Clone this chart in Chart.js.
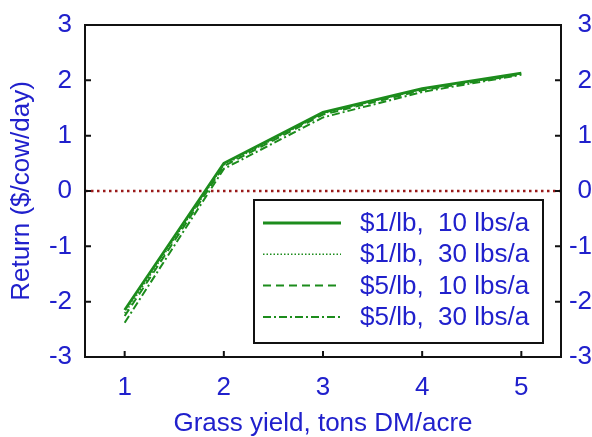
<!DOCTYPE html>
<html>
<head>
<meta charset="utf-8">
<script src="https://cdn.jsdelivr.net/npm/chart.js@4.4.1/dist/chart.umd.min.js"></script>
<style>
  html, body { margin: 0; padding: 0; background: #fff; }
  canvas { display: block; }
</style>
</head>
<body>
<canvas id="returnChart" width="592" height="437"></canvas>
<script>
// grass yield, tons DM/acre
const yieldTons = [1, 2, 3, 4, 5];
// return, $/cow/day
const p1lb10 = [-2.15, 0.50, 1.42, 1.85, 2.13];
const p1lb30 = [-2.21, 0.47, 1.40, 1.84, 2.12];
const p5lb10 = [-2.26, 0.45, 1.38, 1.82, 2.11];
const p5lb30 = [-2.38, 0.40, 1.33, 1.79, 2.10];
const seriesLabels = ["$1/lb,  10 lbs/a", "$1/lb,  30 lbs/a", "$5/lb,  10 lbs/a", "$5/lb,  30 lbs/a"];
const yTicks = [-3, -2, -1, 0, 1, 2, 3];
const breakEven = 0;

const green = "#1c8c1c";
const blue = "#2020cc";
const fontFam = "'Liberation Sans', Arial, sans-serif";

function pts(vals) {
  return vals.map((v, i) => ({ x: yieldTons[i], y: v }));
}

const styles = [
  { dash: [], width: 2.8 },
  { dash: [1.5, 2], width: 1.5 },
  { dash: [8, 5], width: 2 },
  { dash: [8, 3, 2, 3], width: 2 }
];

const datasets = [p1lb10, p1lb30, p5lb10, p5lb30].map((vals, i) => ({
  label: seriesLabels[i],
  data: pts(vals),
  borderColor: green,
  borderWidth: styles[i].width,
  borderDash: styles[i].dash,
  pointRadius: 0,
  fill: false,
  tension: 0
}));

// frame, inward ticks, zero line and the boxed legend
const decor = {
  id: "decor",
  beforeDatasetsDraw(chart) {
    const { ctx, chartArea: a, scales } = chart;
    const y0 = scales.y.getPixelForValue(breakEven);
    ctx.save();
    ctx.strokeStyle = "#9a1a1a";
    ctx.lineWidth = 2.5;
    ctx.setLineDash([2.5, 3.5]);
    ctx.beginPath();
    ctx.moveTo(a.left, y0);
    ctx.lineTo(a.right, y0);
    ctx.stroke();
    ctx.restore();
  },
  afterDatasetsDraw(chart) {
    const { ctx, chartArea: a, scales } = chart;
    ctx.save();
    ctx.strokeStyle = "#111";
    ctx.lineWidth = 2;
    ctx.setLineDash([]);
    ctx.beginPath();
    yieldTons.forEach(v => {
      const px = scales.x.getPixelForValue(v);
      ctx.moveTo(px, a.bottom);
      ctx.lineTo(px, a.bottom - 6);
    });
    yTicks.forEach(v => {
      const py = scales.y.getPixelForValue(v);
      ctx.moveTo(a.left, py);
      ctx.lineTo(a.left + 6, py);
      ctx.moveTo(a.right, py);
      ctx.lineTo(a.right - 6, py);
    });
    ctx.stroke();
    ctx.strokeRect(a.left, a.top, a.right - a.left, a.bottom - a.top);

    // legend box
    const bw = 289, bh = 143;
    const bx = a.right - 18 - bw, by = a.bottom - 14 - bh;
    ctx.fillStyle = "#fff";
    ctx.fillRect(bx, by, bw, bh);
    ctx.strokeRect(bx, by, bw, bh);
    ctx.font = "26px " + fontFam;
    ctx.textBaseline = "middle";
    chart.data.datasets.forEach((ds, i) => {
      const ry = by + 23 + i * 31.3;
      ctx.strokeStyle = ds.borderColor;
      ctx.lineWidth = ds.borderWidth;
      ctx.setLineDash(ds.borderDash);
      ctx.beginPath();
      ctx.moveTo(bx + 9, ry);
      ctx.lineTo(bx + 87, ry);
      ctx.stroke();
      ctx.fillStyle = blue;
      ctx.fillText(ds.label, bx + 106, ry + 1);
    });
    ctx.restore();
  }
};

// fixed axis sizes; drop the label padding Chart.js adds above/below vertical axes
function fixWidth(w) {
  return s => { s.width = w; s.paddingTop = 0; s.paddingBottom = 0; };
}

new Chart(document.getElementById("returnChart"), {
  type: "line",
  data: { datasets: datasets },
  options: {
    responsive: false,
    animation: false,
    layout: { padding: { top: 25, left: 0, right: 0, bottom: 0 } },
    plugins: {
      legend: { display: false },
      tooltip: { enabled: false }
    },
    scales: {
      x: {
        type: "linear",
        min: 0.6,
        max: 5.4,
        afterBuildTicks: s => { s.ticks = yieldTons.map(v => ({ value: v })); },
        afterFit: s => { s.height = 80; },
        grid: { display: false, drawTicks: false },
        border: { display: false },
        ticks: { color: blue, padding: 15, font: { size: 26, family: fontFam } },
        title: {
          display: true,
          text: "Grass yield, tons DM/acre",
          color: blue,
          padding: 0,
          font: { size: 26, family: fontFam, lineHeight: 1 }
        }
      },
      y: {
        position: "left",
        min: -3,
        max: 3,
        afterBuildTicks: s => { s.ticks = yTicks.map(v => ({ value: v })); },
        afterFit: fixWidth(85),
        grid: { display: false, drawTicks: false },
        border: { display: false },
        ticks: { color: blue, padding: 13, font: { size: 26, family: fontFam } },
        title: {
          display: true,
          text: "Return ($/cow/day)",
          color: blue,
          padding: { top: 6, bottom: 0 },
          font: { size: 26, family: fontFam }
        }
      },
      y2: {
        position: "right",
        min: -3,
        max: 3,
        afterBuildTicks: s => { s.ticks = yTicks.map(v => ({ value: v })); },
        afterFit: fixWidth(31),
        grid: { display: false, drawTicks: false },
        border: { display: false },
        ticks: { color: blue, padding: 24, crossAlign: "far", font: { size: 26, family: fontFam } }
      }
    }
  },
  plugins: [decor]
});
</script>
</body>
</html>
